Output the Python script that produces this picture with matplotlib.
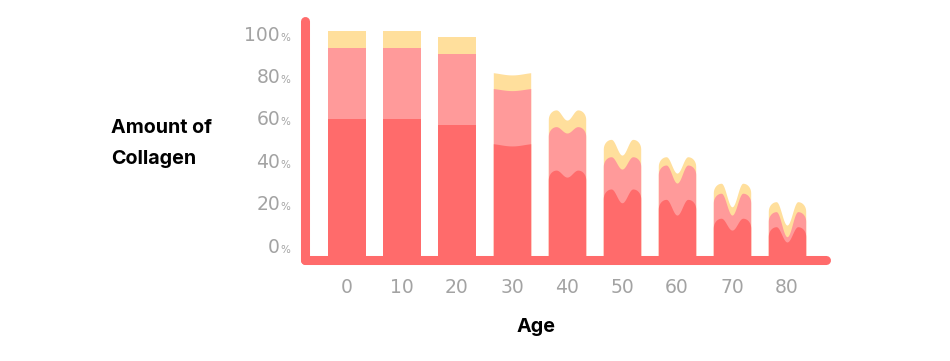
import numpy as np
import matplotlib.pyplot as plt

# =============================================================================
# Data (% of collagen)
# =============================================================================

ages = [0, 10, 20, 30, 40, 50, 60, 70, 80]
y_ticks = [0, 20, 40, 60, 80, 100]

# height of each layer at the bar shoulders (top) and at the notch (mid)
red_top = [60.0, 60.0, 57.1, 48.4, 35.8, 26.9, 22.0, 13.1, 9.1]
red_mid = [60.0, 60.0, 57.1, 47.2, 32.5, 20.4, 14.6, 7.5, 1.9]
pink_top = [93.3, 93.3, 90.4, 74.4, 56.3, 42.1, 38.2, 24.9, 16.2]
pink_mid = [93.3, 93.3, 90.4, 73.3, 53.3, 36.3, 29.7, 14.6, 4.4]
gold_top = [101.6, 101.6, 98.7, 81.9, 64.2, 50.3, 42.1, 29.6, 20.9]
gold_mid = [101.6, 101.6, 98.7, 80.7, 59.4, 42.9, 34.4, 18.5, 9.9]

# =============================================================================
# Style
# =============================================================================

RED = "#FF6B6B"
PINK = "#FF9A9A"
GOLD = "#FFDF9C"
GRAY = "#A3A3A3"

NOTCH_W = [1.0, 1.0, 1.0, 1.3, 0.58, 0.58, 0.58, 0.58, 0.58]
CAP = [0, 0, 0, 0, 4.5, 4.5, 4.5, 4.5, 4.5]
HALF_W = 3.4
BASE = -6.6

W, H = 950, 361
PX_YEAR, AGE0_PX = 5.5, 347
PX_UNIT, V0_PX = 2.12, 246


def profile(u, top, mid, nw, cap):
    notch = np.where(np.abs(u) < nw, np.cos(np.pi * u / (2 * nw)) ** 2, 0.0)
    h = top - (top - mid) * notch
    if cap:
        t = np.clip((np.abs(u) - nw) / (1 - nw), 0, 1)
        h = h - cap * (1 - np.sqrt(1 - t ** 2))
    return h


fig = plt.figure(figsize=(W / 100, H / 100), dpi=100)
ax = fig.add_axes([0, 0, 1, 1])
ax.set_xlim(-AGE0_PX / PX_YEAR, (W - AGE0_PX) / PX_YEAR)
ax.set_ylim((V0_PX - H) / PX_UNIT, V0_PX / PX_UNIT)
ax.axis("off")

u = np.linspace(-1, 1, 400)

for i, age in enumerate(ages):
    x = age + u * HALF_W
    layers = [
        (gold_top[i], gold_mid[i], GOLD),
        (pink_top[i], pink_mid[i], PINK),
        (red_top[i], red_mid[i], RED),
    ]
    for top, mid, col in layers:
        h = profile(u, top, mid, NOTCH_W[i], CAP[i])
        ax.fill_between(x, BASE, h, color=col, lw=0)

# axis lines
ax.plot([-7.55, -7.55], [BASE, 106], color=RED, lw=6.5,
        solid_capstyle="round", zorder=5)
ax.plot([-7.55, 87.1], [BASE, BASE], color=RED, lw=6.5,
        solid_capstyle="round", zorder=5)

# y tick labels
x_num = (280 - AGE0_PX) / PX_YEAR
for v in y_ticks:
    ax.text(x_num, v - 3.1, str(v), ha="right", va="baseline",
            fontsize=13.5, color=GRAY, family="DejaVu Sans")
    ax.text(x_num + 0.15, v - 3.1, "%", ha="left", va="baseline",
            fontsize=7.5, color=GRAY, family="DejaVu Sans")

# x tick labels
for age in ages:
    ax.text(age, (V0_PX - 293) / PX_UNIT, str(age), ha="center",
            va="baseline", fontsize=13.5, color=GRAY, family="DejaVu Sans")

# axis titles
fig.text(111 / W, 1 - 133 / H, "Amount of", ha="left", va="baseline",
         fontsize=14.2, fontweight="bold", family="Inter", color="black")
fig.text(111 / W, 1 - 164 / H, "Collagen", ha="left", va="baseline",
         fontsize=14.2, fontweight="bold", family="Inter", color="black")
fig.text(536 / W, 1 - 332 / H, "Age", ha="center", va="baseline",
         fontsize=14.2, fontweight="bold", family="Inter", color="black")

fig.savefig("out.png", dpi=100)
